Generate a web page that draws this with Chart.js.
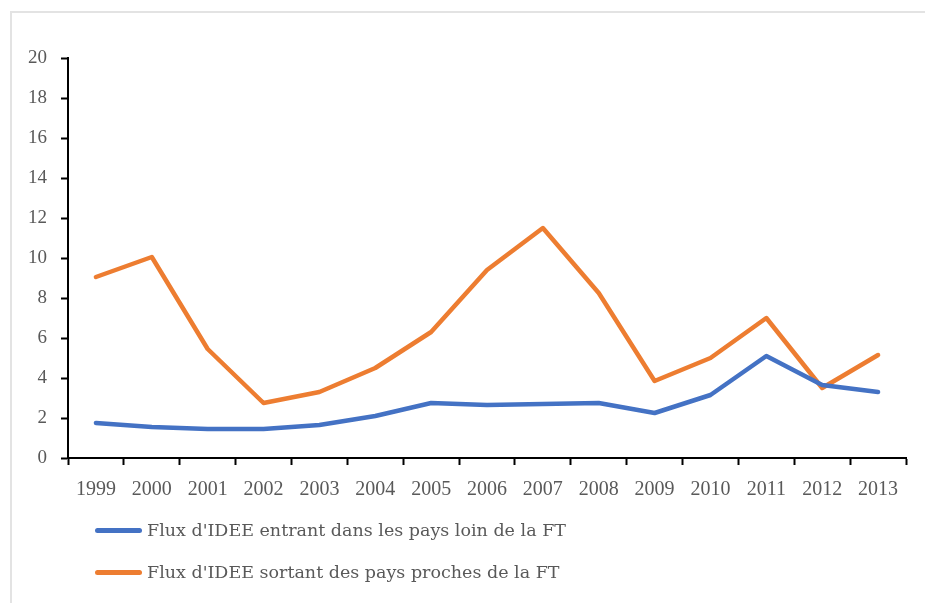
<!DOCTYPE html>
<html>
<head>
<meta charset="utf-8">
<script src="https://cdn.jsdelivr.net/npm/chart.js@4"></script>
<style>
  html, body { margin: 0; padding: 0; background: #fff; }
  #wrap { position: relative; width: 925px; height: 603px; overflow: hidden; }
  #frame { position: absolute; left: 10px; top: 11px; width: 1000px; height: 700px; border: 2px solid #e3e3e3; box-sizing: border-box; }
  canvas { position: absolute; left: 0; top: 0; }
  #legend { position: absolute; left: 95px; top: 509px; font-family: "DejaVu Serif", serif; font-size: 17.5px; color: #595959; }
  #legend .item { display: flex; align-items: center; height: 42px; }
  #legend .swatch { width: 47px; height: 5px; border-radius: 3px; margin-right: 5px; }
</style>
</head>
<body>
<div id="wrap">
  <div id="frame"></div>
  <canvas id="chart" width="925" height="603"></canvas>
  <div id="legend"></div>
</div>
<script>
// années
const years = ["1999", "2000", "2001", "2002", "2003", "2004", "2005", "2006", "2007", "2008", "2009", "2010", "2011", "2012", "2013"];

// flux entrant (pays loin de la FT)
const fluxEntrant = [1.75, 1.55, 1.45, 1.45, 1.65, 2.1, 2.75, 2.65, 2.7, 2.75, 2.25, 3.15, 5.1, 3.65, 3.3];

// flux sortant (pays proches de la FT)
const fluxSortant = [9.05, 10.05, 5.45, 2.75, 3.3, 4.5, 6.3, 9.4, 11.5, 8.25, 3.85, 5.0, 7.0, 3.5, 5.15];

const labelEntrant = "Flux d'IDEE entrant dans les pays loin de la FT";
const labelSortant = "Flux d'IDEE sortant des pays proches de la FT";

const ctx = document.getElementById("chart").getContext("2d");

const chart = new Chart(ctx, {
  type: "line",
  data: {
    labels: years,
    datasets: [
      {
        label: labelEntrant,
        data: fluxEntrant,
        borderColor: "#4472C4",
        backgroundColor: "#4472C4",
        borderWidth: 4.5,
        pointRadius: 0,
        borderCapStyle: "round",
        borderJoinStyle: "round",
        tension: 0,
      },
      {
        label: labelSortant,
        data: fluxSortant,
        borderColor: "#ED7D31",
        backgroundColor: "#ED7D31",
        borderWidth: 4.5,
        pointRadius: 0,
        borderCapStyle: "round",
        borderJoinStyle: "round",
        tension: 0,
      },
    ],
  },
  options: {
    responsive: false,
    animation: false,
    layout: { padding: { top: 58, right: 19, left: 0, bottom: 0 } },
    plugins: {
      legend: { display: false },
      tooltip: { enabled: false },
    },
    scales: {
      x: {
        offset: true,
        grid: {
          offset: true,
          drawOnChartArea: false,
          drawTicks: true,
          tickLength: 7,
          tickWidth: 2,
          tickColor: "#000",
        },
        border: { color: "#000", width: 2 },
        ticks: {
          color: "#595959",
          font: { family: "Liberation Serif", size: 20 },
          padding: 13,
          maxRotation: 0,
          autoSkip: false,
        },
        afterFit: function (scale) {
          scale.height = 145;
        },
      },
      y: {
        min: 0,
        max: 20,
        grid: {
          drawOnChartArea: false,
          drawTicks: true,
          tickLength: 7,
          tickWidth: 2,
          tickColor: "#000",
        },
        border: { color: "#000", width: 2 },
        ticks: {
          stepSize: 2,
          color: "#595959",
          font: { family: "Liberation Serif", size: 19 },
          padding: 14,
        },
        afterFit: function (scale) {
          scale.width = 68;
        },
      },
    },
  },
});

// légende en HTML
const legendEl = document.getElementById("legend");
chart.data.datasets.forEach(function (ds) {
  const item = document.createElement("div");
  item.className = "item";
  const sw = document.createElement("span");
  sw.className = "swatch";
  sw.style.background = ds.borderColor;
  const txt = document.createElement("span");
  txt.textContent = ds.label;
  item.appendChild(sw);
  item.appendChild(txt);
  legendEl.appendChild(item);
});
</script>
</body>
</html>
